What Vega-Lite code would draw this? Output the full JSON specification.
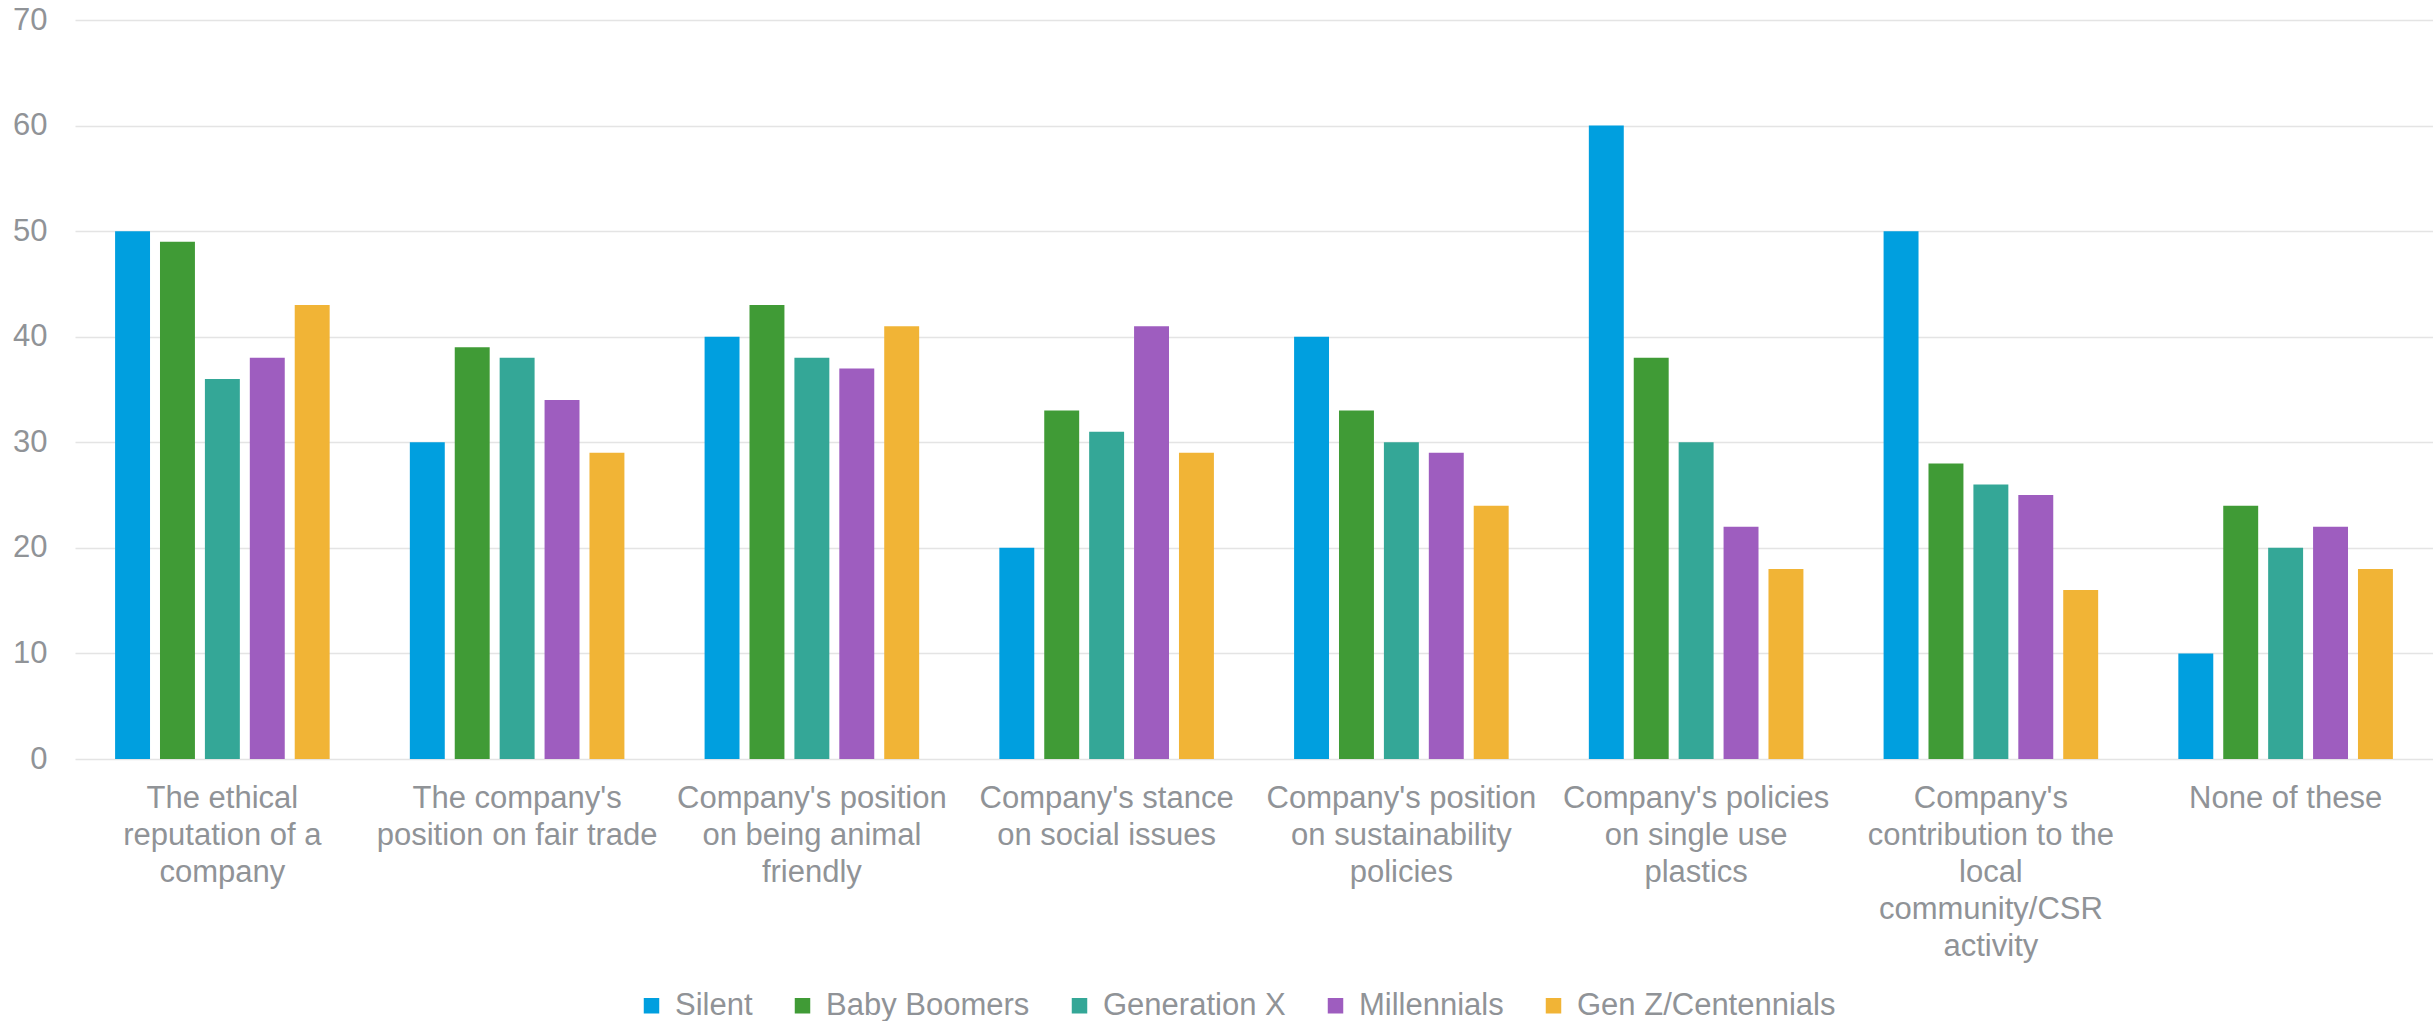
{
  "$schema": "https://vega.github.io/schema/vega-lite/v6.json",
  "autosize": {"type": "none"},
  "width": 2358,
  "height": 739,
  "padding": {"left": 75, "top": 20, "right": 0, "bottom": 262},
  "background": "white",
  "config": {
    "view": {"stroke": null},
    "font": "Liberation Sans"
  },
  "data": {
    "values": [
      {"topic": "The ethical\nreputation of a\ncompany", "generation": "Silent", "pct": 50},
      {"topic": "The ethical\nreputation of a\ncompany", "generation": "Baby Boomers", "pct": 49},
      {"topic": "The ethical\nreputation of a\ncompany", "generation": "Generation X", "pct": 36},
      {"topic": "The ethical\nreputation of a\ncompany", "generation": "Millennials", "pct": 38},
      {"topic": "The ethical\nreputation of a\ncompany", "generation": "Gen Z/Centennials", "pct": 43},
      {"topic": "The company's\nposition on fair trade", "generation": "Silent", "pct": 30},
      {"topic": "The company's\nposition on fair trade", "generation": "Baby Boomers", "pct": 39},
      {"topic": "The company's\nposition on fair trade", "generation": "Generation X", "pct": 38},
      {"topic": "The company's\nposition on fair trade", "generation": "Millennials", "pct": 34},
      {"topic": "The company's\nposition on fair trade", "generation": "Gen Z/Centennials", "pct": 29},
      {"topic": "Company's position\non being animal\nfriendly", "generation": "Silent", "pct": 40},
      {"topic": "Company's position\non being animal\nfriendly", "generation": "Baby Boomers", "pct": 43},
      {"topic": "Company's position\non being animal\nfriendly", "generation": "Generation X", "pct": 38},
      {"topic": "Company's position\non being animal\nfriendly", "generation": "Millennials", "pct": 37},
      {"topic": "Company's position\non being animal\nfriendly", "generation": "Gen Z/Centennials", "pct": 41},
      {"topic": "Company's stance\non social issues", "generation": "Silent", "pct": 20},
      {"topic": "Company's stance\non social issues", "generation": "Baby Boomers", "pct": 33},
      {"topic": "Company's stance\non social issues", "generation": "Generation X", "pct": 31},
      {"topic": "Company's stance\non social issues", "generation": "Millennials", "pct": 41},
      {"topic": "Company's stance\non social issues", "generation": "Gen Z/Centennials", "pct": 29},
      {"topic": "Company's position\non sustainability\npolicies", "generation": "Silent", "pct": 40},
      {"topic": "Company's position\non sustainability\npolicies", "generation": "Baby Boomers", "pct": 33},
      {"topic": "Company's position\non sustainability\npolicies", "generation": "Generation X", "pct": 30},
      {"topic": "Company's position\non sustainability\npolicies", "generation": "Millennials", "pct": 29},
      {"topic": "Company's position\non sustainability\npolicies", "generation": "Gen Z/Centennials", "pct": 24},
      {"topic": "Company's policies\non single use\nplastics", "generation": "Silent", "pct": 60},
      {"topic": "Company's policies\non single use\nplastics", "generation": "Baby Boomers", "pct": 38},
      {"topic": "Company's policies\non single use\nplastics", "generation": "Generation X", "pct": 30},
      {"topic": "Company's policies\non single use\nplastics", "generation": "Millennials", "pct": 22},
      {"topic": "Company's policies\non single use\nplastics", "generation": "Gen Z/Centennials", "pct": 18},
      {"topic": "Company's\ncontribution to the\nlocal\ncommunity/CSR\nactivity", "generation": "Silent", "pct": 50},
      {"topic": "Company's\ncontribution to the\nlocal\ncommunity/CSR\nactivity", "generation": "Baby Boomers", "pct": 28},
      {"topic": "Company's\ncontribution to the\nlocal\ncommunity/CSR\nactivity", "generation": "Generation X", "pct": 26},
      {"topic": "Company's\ncontribution to the\nlocal\ncommunity/CSR\nactivity", "generation": "Millennials", "pct": 25},
      {"topic": "Company's\ncontribution to the\nlocal\ncommunity/CSR\nactivity", "generation": "Gen Z/Centennials", "pct": 16},
      {"topic": "None of these", "generation": "Silent", "pct": 10},
      {"topic": "None of these", "generation": "Baby Boomers", "pct": 24},
      {"topic": "None of these", "generation": "Generation X", "pct": 20},
      {"topic": "None of these", "generation": "Millennials", "pct": 22},
      {"topic": "None of these", "generation": "Gen Z/Centennials", "pct": 18}
    ]
  },
  "mark": {"type": "bar"},
  "encoding": {
    "x": {
      "field": "topic",
      "type": "nominal",
      "sort": null,
      "scale": {"paddingInner": 0.272, "paddingOuter": 0.136},
      "axis": {
        "title": null,
        "labelAngle": 0,
        "labelExpr": "split(datum.label, '\\n')",
        "labelFontSize": 31,
        "labelLineHeight": 37,
        "labelColor": "#909397",
        "labelBaseline": "top",
        "labelPadding": 24,
        "labelLimit": 0,
        "ticks": false,
        "tickSize": 0,
        "domain": false,
        "grid": false
      }
    },
    "xOffset": {
      "field": "generation",
      "type": "nominal",
      "sort": ["Silent", "Baby Boomers", "Generation X", "Millennials", "Gen Z/Centennials"],
      "scale": {"paddingInner": 0.222, "paddingOuter": 0}
    },
    "y": {
      "field": "pct",
      "type": "quantitative",
      "scale": {"domain": [0, 70], "nice": false},
      "axis": {
        "title": null,
        "values": [0, 10, 20, 30, 40, 50, 60, 70],
        "labelFontSize": 31,
        "labelColor": "#909397",
        "labelPadding": 28,
        "ticks": false,
        "tickSize": 0,
        "domain": false,
        "grid": true,
        "gridColor": "#e4e4e4",
        "gridWidth": 1.5
      }
    },
    "color": {
      "field": "generation",
      "type": "nominal",
      "sort": ["Silent", "Baby Boomers", "Generation X", "Millennials", "Gen Z/Centennials"],
      "scale": {
        "domain": ["Silent", "Baby Boomers", "Generation X", "Millennials", "Gen Z/Centennials"],
        "range": ["#009FDF", "#409B36", "#34A797", "#9E5DBF", "#F1B436"]
      },
      "legend": {
        "title": null,
        "orient": "none",
        "direction": "horizontal",
        "legendX": 561,
        "legendY": 970,
        "padding": 0,
        "symbolType": "square",
        "symbolSize": 240,
        "symbolStrokeWidth": 0,
        "labelFontSize": 31,
        "labelColor": "#909397",
        "labelOffset": 8,
        "columnPadding": 34,
        "labelLimit": 0
      }
    }
  }
}
